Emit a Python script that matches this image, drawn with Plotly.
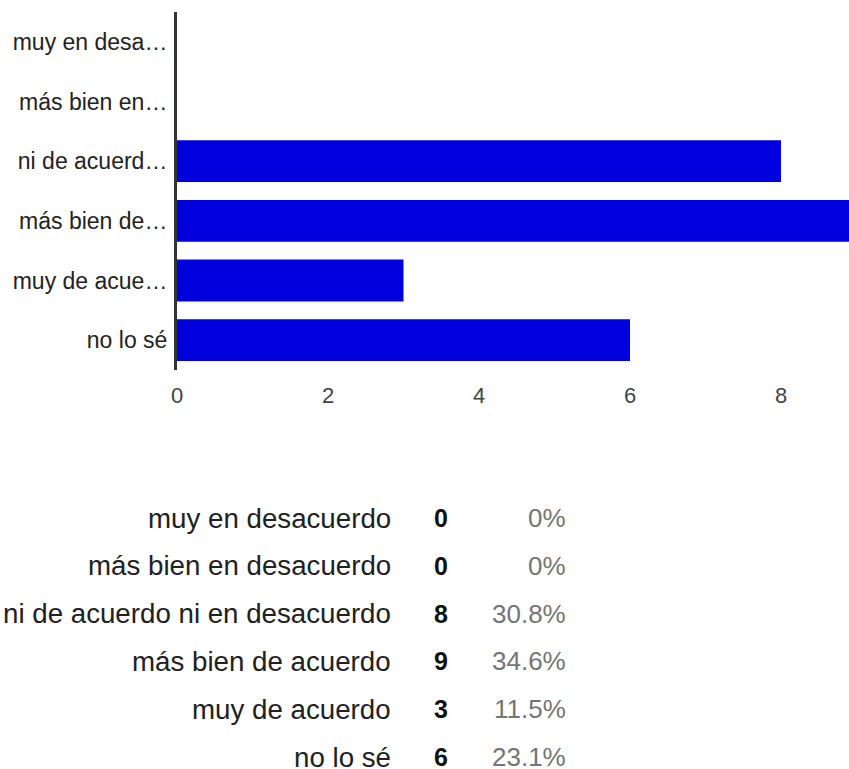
import plotly.graph_objects as go

# Survey responses
categories = [
    "muy en desacuerdo",
    "más bien en desacuerdo",
    "ni de acuerdo ni en desacuerdo",
    "más bien de acuerdo",
    "muy de acuerdo",
    "no lo sé",
]
short_labels = [
    "muy en desa…",
    "más bien en…",
    "ni de acuerd…",
    "más bien de…",
    "muy de acue…",
    "no lo sé",
]
counts = [0, 0, 8, 9, 3, 6]
x_ticks = [0, 2, 4, 6, 8]

W, H = 849, 769
total = sum(counts)
FONT = "Liberation Sans, Arial, sans-serif"
BAR_BLUE = "rgb(0,0,222)"

fig = go.Figure(
    go.Bar(
        x=counts,
        y=categories,
        orientation="h",
        marker=dict(color=BAR_BLUE, line=dict(width=0)),
        hoverinfo="skip",
    )
)

# Plot area in pixels: axis at x=177, bars from y=12 to y=370
plot_left, plot_top, plot_bottom = 177, 12, 370
plot_w = W - plot_left
px_per_unit = 75.5

fig.update_layout(
    width=W,
    height=H,
    margin=dict(l=plot_left, r=0, t=0, b=0),
    paper_bgcolor="white",
    plot_bgcolor="white",
    showlegend=False,
    bargap=0.3,
    font=dict(family=FONT),
    xaxis=dict(
        range=[0, plot_w / px_per_unit],
        tickvals=x_ticks,
        ticktext=[str(v) for v in x_ticks],
        showgrid=False,
        zeroline=False,
        showline=False,
        ticks="",
        ticklabelstandoff=10,
        tickfont=dict(size=22, color="#444444", family=FONT),
    ),
    yaxis=dict(
        domain=[1 - plot_bottom / H, 1 - plot_top / H],
        categoryorder="array",
        categoryarray=categories,
        autorange="reversed",
        tickvals=categories,
        ticktext=short_labels,
        showgrid=False,
        zeroline=False,
        showline=True,
        linecolor="#333333",
        linewidth=3,
        ticks="",
        ticklabelstandoff=2,
        tickfont=dict(size=23, color="#222222", family=FONT),
    ),
)


def px_x(px):
    """Pixel column -> paper x (paper spans the plot area horizontally)."""
    return (px - plot_left) / plot_w


# Summary table below the chart: label, count, share
row_y0, row_pitch = 518, 47.8
label_right, count_center, pct_right = 392, 441, 567
for i, (name, n) in enumerate(zip(categories, counts)):
    y = 1 - (row_y0 + i * row_pitch) / H
    pct = 100 * n / total
    pct_text = "0%" if n == 0 else f"{pct:.1f}%"
    common = dict(xref="paper", yref="paper", y=y, showarrow=False,
                  yanchor="middle", borderpad=0)
    fig.add_annotation(
        x=px_x(label_right), text=name, xanchor="right",
        font=dict(size=27.7, color="#212121", family=FONT), **common,
    )
    fig.add_annotation(
        x=px_x(count_center), text=f"<b>{n}</b>", xanchor="center",
        font=dict(size=25, color="#111111", family=FONT), **common,
    )
    fig.add_annotation(
        x=px_x(pct_right), text=pct_text, xanchor="right",
        font=dict(size=26, color="#757575", family=FONT), **common,
    )

fig.write_html("out.html", config={"displayModeBar": False})
